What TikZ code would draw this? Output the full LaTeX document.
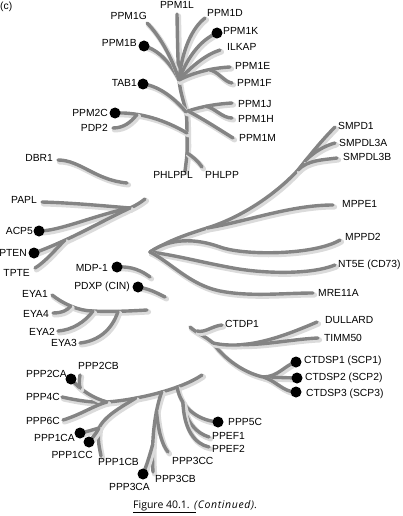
\documentclass[tikz,border=0pt]{standalone}
\usepackage{fontspec}
\setmainfont{Liberation Sans}
\newfontfamily\capfont{Open Sans}
\definecolor{brc}{RGB}{132,132,132}
\begin{document}
\begin{tikzpicture}[x=1pt,y=-1pt,
  br/.style={draw=brc, line width=3.4pt, line cap=round, line join=round,
    preaction={draw=black!14, line width=5.2pt, line cap=round, transform canvas={shift={(1.5pt,-1.9pt)}}}},
  dot/.style={circle, fill=black, inner sep=0pt, minimum size=11pt},
  lbl/.style={inner sep=0pt, font=\fontsize{10.3}{12}\selectfont, text height=7.4pt, text depth=0pt},
  le/.style={lbl, anchor=east},
  lw/.style={lbl, anchor=west}]
\useasboundingbox (0,0) rectangle (402,516);

% ---------- top tree (PPM) ----------
\coordinate (tbot) at (185,171);
\coordinate (tA) at (187,153);
\coordinate (tB) at (187,133);
\coordinate (tC) at (186,112);
\coordinate (tD) at (179,80);
\coordinate (eL) at (177,14);
\coordinate (ePHLPP) at (202,167);
\coordinate (jPDP) at (137,114.5);
\coordinate (ePDP2) at (113,128);
\coordinate (eG) at (147,23);
\coordinate (eD) at (205,18);
\coordinate (eILKAP) at (220,50);
\coordinate (eE) at (230,67);
\coordinate (jF) at (209,69.7);
\coordinate (eF) at (232,83);
\coordinate (jJ) at (188,111);
\coordinate (eJ) at (232,103);
\coordinate (jH) at (205.7,106.2);
\coordinate (eH) at (232,118);
\coordinate (eM) at (233,138);
\coordinate (dPPM2C) at (115,113);
\coordinate (dTAB1) at (143,84);
\coordinate (dPPM1B) at (144,46);
\coordinate (dPPM1K) at (217,33);

\draw[br] plot[smooth, tension=0.5] coordinates {(tbot) (tA) (tB) (tC) (tD) (eL)};
\draw[br] (tA) .. controls (192,156) and (198,161) .. (ePHLPP);
\draw[br] (dPPM2C) .. controls (140,112) and (165,120) .. (tB);
\draw[br] (ePDP2) .. controls (124,128) and (131,122) .. (jPDP);
\draw[br] (dTAB1) .. controls (160,86) and (176,100) .. (tC);
\draw[br] (dPPM1B) .. controls (160,50) and (172,66) .. (tD);
\draw[br] (eG) .. controls (160,36) and (172,58) .. (tD);
\draw[br] (tD) .. controls (182,50) and (192,28) .. (eD);
\draw[br] (tD) .. controls (187,58) and (200,40) .. (dPPM1K);
\draw[br] (tD) .. controls (192,66) and (205,55) .. (eILKAP);
\draw[br] (tD) .. controls (195,72) and (212,68) .. (eE);
\draw[br] (jF) .. controls (218,71) and (224,82) .. (eF);
\draw[br] (jJ) .. controls (200,107) and (215,104) .. (eJ);
\draw[br] (jH) .. controls (215,108) and (222,118) .. (eH);
\draw[br] (jJ) .. controls (205,120) and (220,130) .. (eM);

% ---------- DBR1 ----------
\coordinate (eDBR1) at (58,160);
\coordinate (eDBR1b) at (127,183);
\draw[br] (eDBR1) .. controls (80,160) and (95,180) .. (eDBR1b);

% ---------- PAPL group ----------
\coordinate (jP) at (130,208);
\coordinate (eP) at (145,199);
\coordinate (ePAPL) at (42,202);
\coordinate (dACP5) at (39,231);
\coordinate (dPTEN) at (34,253);
\coordinate (jT) at (65,240);
\coordinate (eTPTE) at (35,268);
\draw[br] (jP) .. controls (137,205) and (141,202) .. (eP);
\draw[br] (ePAPL) .. controls (75,203) and (105,206) .. (jP);
\draw[br] (dACP5) .. controls (60,231) and (95,215) .. (jP);
\draw[br] (dPTEN) .. controls (70,240) and (100,222) .. (jP);
\draw[br] (eTPTE) .. controls (45,262) and (55,250) .. (jT);

% ---------- central tree ----------
\coordinate (r) at (150,252);
\coordinate (jU) at (207,228);
\coordinate (jS) at (298,170);
\coordinate (jS3) at (305,161);
\coordinate (eS1) at (335,127);
\coordinate (eS2) at (335,143);
\coordinate (eS3) at (337,158);
\coordinate (eMPPE1) at (333,205);
\coordinate (jD2) at (220,247);
\coordinate (eMPPD2) at (340,240);
\coordinate (jN) at (233,268);
\coordinate (eNT5E) at (335,265);
\coordinate (jR) at (220,291);
\coordinate (eMRE) at (313,293);
\draw[br] (r) .. controls (170,240) and (185,235) .. (jU)
          .. controls (240,218) and (275,195) .. (jS)
          .. controls (310,155) and (322,140) .. (eS1);
\draw[br] (jS3) .. controls (314,152) and (324,146) .. (eS2);
\draw[br] (jS) .. controls (308,160) and (322,160) .. (eS3);
\draw[br] (jU) .. controls (245,222) and (290,205) .. (eMPPE1);
\draw[br] (r) .. controls (170,238) and (195,238) .. (jD2)
          .. controls (245,256) and (315,255) .. (eMPPD2);
\draw[br] (r) .. controls (175,255) and (200,262) .. (jN)
          .. controls (263,273.5) and (310,275) .. (eNT5E);
\draw[br] (r) .. controls (170,262) and (190,285) .. (jR)
          .. controls (250,297) and (285,293) .. (eMRE);

% ---------- MDP-1 / PDXP ----------
\coordinate (dMDP) at (117,267);
\coordinate (eMDP) at (150,277);
\coordinate (dPDXP) at (138,287);
\coordinate (ePDXP) at (165,297);
\draw[br] (dMDP) .. controls (132,266) and (142,271) .. (eMDP);
\draw[br] (dPDXP) .. controls (150,289) and (157,293) .. (ePDXP);

% ---------- EYA ----------
\coordinate (eEYA1) at (52,295);
\coordinate (jE4) at (70.6,306);
\coordinate (jE2) at (93,311);
\coordinate (jE3) at (118,311.5);
\coordinate (eEYAm) at (147,310);
\coordinate (eEYA4) at (53,313);
\coordinate (eEYA2) at (58,331);
\coordinate (eEYA3) at (80,343);
\draw[br] (eEYA1) .. controls (62,303) and (78,311) .. (jE2)
          .. controls (110,312) and (130,311) .. (eEYAm);
\draw[br] (eEYA4) .. controls (62,313) and (68,310) .. (jE4);
\draw[br] (eEYA2) .. controls (72,330) and (85,322) .. (jE2);
\draw[br] (eEYA3) .. controls (98,341) and (112,330) .. (jE3);

% ---------- CTD group ----------
\coordinate (c0) at (190,327);
\coordinate (jC1) at (197,331);
\coordinate (cj) at (213,343);
\coordinate (eCTDP1) at (222,325);
\coordinate (eDULL) at (317,322);
\coordinate (jTI) at (242.6,344.6);
\coordinate (eTIMM) at (318,338);
\coordinate (jCS) at (263,377);
\coordinate (dCS1) at (296,362);
\coordinate (dCS2) at (297,378);
\coordinate (dCS3) at (296,392);
\draw[br] (c0) .. controls (195,332) and (205,336) .. (cj)
          .. controls (225,360) and (245,373) .. (jCS);
\draw[br] (jC1) .. controls (205,333) and (212,326) .. (eCTDP1);
\draw[br] (cj) .. controls (245,350) and (280,338) .. (eDULL);
\draw[br] (jTI) .. controls (265,345) and (295,339) .. (eTIMM);
\draw[br] (jCS) .. controls (278,377) and (285,365) .. (dCS1);
\draw[br] (jCS) -- (dCS2);
\draw[br] (jCS) .. controls (275,380) and (283,392) .. (dCS3);

% ---------- PPP group ----------
\coordinate (ePP4C) at (62,397);
\coordinate (jPPA) at (107,402);
\coordinate (ePPPm) at (202,375);
\coordinate (jPP1) at (135.7,398.1);
\coordinate (jPP3) at (161.8,391.6);
\coordinate (jPP5) at (177.1,387.1);
\coordinate (dPP2CA) at (71,379);
\coordinate (jPB) at (80.2,388.1);
\coordinate (ePP2CB) at (80,375);
\coordinate (ePP6C) at (63,420);
\coordinate (jPP1f) at (99,428);
\coordinate (ePP1CB) at (101,456);
\coordinate (dPP1CA) at (80,433);
\coordinate (dPP1CC) at (89,442);
\coordinate (ePP3CB) at (153,472);
\coordinate (jPA) at (152.8,444);
\coordinate (dPP3CA) at (143,474);
\coordinate (jPC) at (156.5,411);
\coordinate (ePP3CC) at (168,452);
\coordinate (dPP5C) at (218,422);
\coordinate (jEF) at (182.9,402.2);
\coordinate (ePPEF1) at (209,437);
\coordinate (ePPEF2) at (209,447);
\draw[br] (ePP4C) .. controls (80,401) and (95,403) .. (jPPA)
          .. controls (135,400) and (180,390) .. (ePPPm);
\draw[br] (dPP2CA) .. controls (80,390) and (93,398) .. (jPPA);
\draw[br] (ePP2CB) .. controls (79,380) and (79,385) .. (jPB);
\draw[br] (ePP6C) .. controls (80,415) and (95,405) .. (jPPA);
\draw[br] (jPP1) .. controls (125,405) and (105,415) .. (jPP1f)
          .. controls (97,440) and (100,450) .. (ePP1CB);
\draw[br] (jPP1f) .. controls (92,430) and (86,432) .. (dPP1CA);
\draw[br] (jPP1f) .. controls (96,434) and (92,438) .. (dPP1CC);
\draw[br] (jPP3) .. controls (155,410) and (151,440) .. (ePP3CB);
\draw[br] (jPA) .. controls (149,458) and (146,467) .. (dPP3CA);
\draw[br] (jPC) .. controls (158,430) and (162,445) .. (ePP3CC);
\draw[br] (jPP5) .. controls (180,405) and (195,420) .. (dPP5C);
\draw[br] (jEF) .. controls (186,422) and (196,433) .. (ePPEF1);
\draw[br] (jEF) .. controls (184,430) and (195,444) .. (ePPEF2);

% ---------- dots ----------
\foreach \d in {dPPM2C,dTAB1,dPPM1B,dPPM1K,dACP5,dPTEN,dMDP,dPDXP,dCS1,dCS2,dCS3,dPP2CA,dPP1CA,dPP1CC,dPP3CA,dPP5C}
  \node[dot] (n\d) at (\d) {};

% ---------- labels ----------
\node[lw] (lc) at (0,6) {(c)};
\node[lbl] (lPPM1L) at (177,5) {PPM1L};
\node[lw] (lPPM1D) at (207,13) {PPM1D};
\node[le] (lPPM1G) at (147,16) {PPM1G};
\node[lw] (lPPM1K) at (223,31) {PPM1K};
\node[le] (lPPM1B) at (137,43) {PPM1B};
\node[lw] (lILKAP) at (227,47) {ILKAP};
\node[lw] (lPPM1E) at (235,66) {PPM1E};
\node[le] (lTAB1) at (137,83) {TAB1};
\node[lw] (lPPM1F) at (237,83) {PPM1F};
\node[lw] (lPPM1J) at (238,104) {PPM1J};
\node[le] (lPPM2C) at (108,113) {PPM2C};
\node[lw] (lPPM1H) at (238,119) {PPM1H};
\node[le] (lPDP2) at (108,128) {PDP2};
\node[lw] (lPPM1M) at (239,138) {PPM1M};
\node[lw] (lSMPD1) at (338,126) {SMPD1};
\node[lw] (lSMPDL3A) at (339,143) {SMPDL3A};
\node[lw] (lSMPDL3B) at (343,157) {SMPDL3B};
\node[le] (lDBR1) at (53,158) {DBR1};
\node[lbl] (lPHLPPL) at (173,175) {PHLPPL};
\node[lw] (lPHLPP) at (205,175) {PHLPP};
\node[le] (lPAPL) at (37,200) {PAPL};
\node[lw] (lMPPE1) at (342,204) {MPPE1};
\node[le] (lACP5) at (33,231) {ACP5};
\node[lw] (lMPPD2) at (345,237) {MPPD2};
\node[le] (lPTEN) at (27,253) {PTEN};
\node[lw] (lNT5E) at (338,264) {NT5E (CD73)};
\node[le] (lMDP) at (108,268) {MDP-1};
\node[le] (lTPTE) at (30,273) {TPTE};
\node[le] (lPDXP) at (130,286) {PDXP (CIN)};
\node[lw] (lMRE) at (318,293) {MRE11A};
\node[le] (lEYA1) at (48,294) {EYA1};
\node[le] (lEYA4) at (49,314) {EYA4};
\node[lw] (lCTDP1) at (225,324) {CTDP1};
\node[lw] (lDULL) at (325,320) {DULLARD};
\node[le] (lEYA2) at (55,332) {EYA2};
\node[lw] (lTIMM) at (324,338) {TIMM50};
\node[le] (lEYA3) at (77,343) {EYA3};
\node[lw] (lCS1) at (304,360) {CTDSP1 (SCP1)};
\node[lw] (lPP2CB) at (78,366) {PPP2CB};
\node[le] (lPP2CA) at (67,374) {PPP2CA};
\node[lw] (lCS2) at (305,377) {CTDSP2 (SCP2)};
\node[lw] (lCS3) at (306,393) {CTDSP3 (SCP3)};
\node[le] (lPP4C) at (60,397) {PPP4C};
\node[le] (lPP6C) at (60,421) {PPP6C};
\node[lw] (lPP5C) at (228,422) {PPP5C};
\node[lw] (lPPEF1) at (212,436) {PPEF1};
\node[le] (lPP1CA) at (75,438) {PPP1CA};
\node[lw] (lPPEF2) at (212,449) {PPEF2};
\node[le] (lPP1CC) at (93,455) {PPP1CC};
\node[lw] (lPP3CC) at (172,461) {PPP3CC};
\node[lw] (lPP1CB) at (98,462) {PPP1CB};
\node[lw] (lPP3CB) at (155,479) {PPP3CB};
\node[le] (lPP3CA) at (150,487) {PPP3CA};

% ---------- caption ----------
\node[anchor=west, inner sep=0pt, font=\capfont\fontsize{10.5}{12}\selectfont, text height=7.6pt, text depth=2pt] (cap) at (133,506) {Figure 40.1.};
\node[anchor=west, inner sep=0pt, font=\capfont\itshape\addfontfeatures{LetterSpace=6}\fontsize{10.5}{12}\selectfont, text height=7.6pt, text depth=2pt] (cap2) at (194,506) {(Continued).};
\draw[line width=0.9pt] ([yshift=-1.5pt]cap.south west) -- ([xshift=6pt,yshift=-1.5pt]cap.south east);
\end{tikzpicture}
\end{document}
